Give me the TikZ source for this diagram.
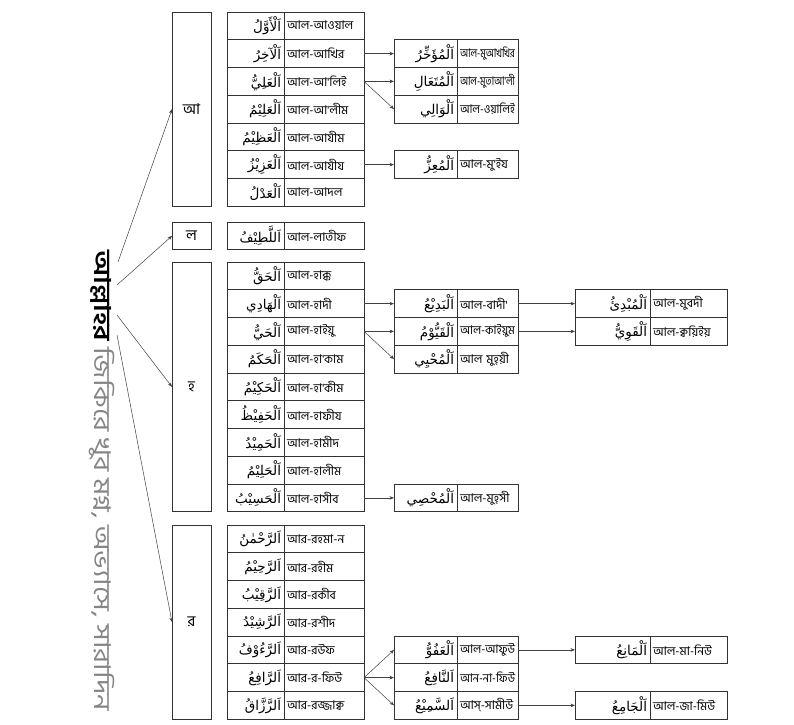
\documentclass[tikz,border=0pt]{standalone}
\usepackage{fontspec}
\usepackage{graphicx}
\usepackage{xcolor}
\usetikzlibrary{arrows.meta}
\TeXXeTstate=1
\newfontfamily\bnfont[Script=Bengali]{Hind Siliguri}
\newfontfamily\bnwide[Script=Bengali, FakeStretch=1.26]{Hind Siliguri}
\newfontfamily\arfont[Script=Arabic]{DejaVu Sans}
\newsavebox\fitbox
\newcommand\fitto[2]{\sbox\fitbox{#2}\ifdim\wd\fitbox>#1\relax\resizebox{#1}{\height}{\usebox\fitbox}\else\usebox\fitbox\fi}
\newcommand\arabtxt[1]{{\arfont\beginR #1\endR}}
\definecolor{rootgray}{HTML}{858585}
\tikzset{
  cellbase/.style={draw=black!80, line width=0.6pt, minimum height=27.75pt,
    inner xsep=3pt, inner ysep=0pt, outer sep=0pt, anchor=north west},
  arcell/.style={cellbase, text width=#1, align=right,
    font=\arfont\fontsize{13.5}{15}\selectfont},
  bncell/.style={cellbase, text width=#1, align=left,
    font=\bnfont\fontsize{12}{14}\selectfont},
  keybox/.style={draw=black!80, line width=0.6pt, minimum width=39pt,
    inner sep=0pt, outer sep=0pt, anchor=north west,
    font=\bnfont\fontsize{15}{17}\selectfont},
  conn/.style={draw=black!75, line width=0.5pt,
    -{Stealth[length=4.5pt,width=3.5pt]}},
}
% name, x, ar text width, bn text width, top, arabic, bengali
\newcommand\cellrow[7]{%
  \node[arcell=#3] (#1a) at (#2,#5) {\fitto{#3}{\arabtxt{#6}}};
  \node[bncell=#4] (#1) at (#1a.north east) {\fitto{#4}{#7}};
}
\begin{document}
\begin{tikzpicture}[x=1pt,y=-1pt]
\useasboundingbox (0,0) rectangle (794,724);

% root text
\node[rotate=-90, anchor=west, inner sep=0pt,
  font=\bnwide\fontsize{23}{27}\selectfont] (root) at (102,250)
  {{\bfseries আল্লাহর} \textcolor{rootgray}{জিকিরে খুব মগ্ন, অভ্যাসে, সারাদিন}};
\coordinate (p1) at (118,262);
\coordinate (p2) at (117,285);
\coordinate (p3) at (117,315);
\coordinate (p4) at (117,335);

% key boxes
\node[keybox, minimum height=194.25pt] (kA) at (172,12) {আ};
\node[keybox, minimum height=27.75pt] (kL) at (172,222) {ল};
\node[keybox, minimum height=249.75pt] (kH) at (172,262) {হ};
\node[keybox, minimum height=194.25pt] (kR) at (172,525) {র};

% column 2
\cellrow{a1}{227}{51pt}{74pt}{12}{اَلْأَوَّلُ}{আল-আওয়াল}
\cellrow{a2}{227}{51pt}{74pt}{39.75}{اَلْآخِرُ}{আল-আখির}
\cellrow{a3}{227}{51pt}{74pt}{67.5}{اَلْعَلِيُّ}{আল-আ'লিই}
\cellrow{a4}{227}{51pt}{74pt}{95.25}{اَلْعَلِيْمُ}{আল-আ'লীম}
\cellrow{a5}{227}{51pt}{74pt}{123}{اَلْعَظِيْمُ}{আল-আযীম}
\cellrow{a6}{227}{51pt}{74pt}{150.75}{اَلْعَزِيْزُ}{আল-আযীয}
\cellrow{a7}{227}{51pt}{74pt}{178.5}{اَلْعَدْلُ}{আল-আদল}

\cellrow{l1}{227}{51pt}{74pt}{222}{اَللَّطِيْفُ}{আল-লাতীফ}

\cellrow{h1}{227}{51pt}{74pt}{262}{اَلْحَقُّ}{আল-হাক্ক}
\cellrow{h2}{227}{51pt}{74pt}{289.75}{اَلْهَادِي}{আল-হাদী}
\cellrow{h3}{227}{51pt}{74pt}{317.5}{اَلْحَيُّ}{আল-হাইয়ু}
\cellrow{h4}{227}{51pt}{74pt}{345.25}{اَلْحَكَمُ}{আল-হা'কাম}
\cellrow{h5}{227}{51pt}{74pt}{373}{اَلْحَكِيْمُ}{আল-হা'কীম}
\cellrow{h6}{227}{51pt}{74pt}{400.75}{اَلْحَفِيْظُ}{আল-হাফীয}
\cellrow{h7}{227}{51pt}{74pt}{428.5}{اَلْحَمِيْدُ}{আল-হামীদ}
\cellrow{h8}{227}{51pt}{74pt}{456.25}{اَلْحَلِيْمُ}{আল-হালীম}
\cellrow{h9}{227}{51pt}{74pt}{484}{اَلْحَسِيْبُ}{আল-হাসীব}

\cellrow{r1}{227}{51pt}{74pt}{525}{اَلرَّحْمٰنُ}{আর-রহমা-ন}
\cellrow{r2}{227}{51pt}{74pt}{552.75}{اَلرَّحِيْمُ}{আর-রহীম}
\cellrow{r3}{227}{51pt}{74pt}{580.5}{اَلرَّقِيْبُ}{আর-রকীব}
\cellrow{r4}{227}{51pt}{74pt}{608.25}{اَلرَّشِيْدُ}{আর-রশীদ}
\cellrow{r5}{227}{51pt}{74pt}{636}{اَلرَّءُوْفُ}{আর-রউফ}
\cellrow{r6}{227}{51pt}{74pt}{663.75}{اَلرَّافِعُ}{আর-র-ফিউ}
\cellrow{r7}{227}{51pt}{74pt}{691.5}{اَلرَّزَّاقُ}{আর-রজ্জাক্ব}

% column 3
\cellrow{m1}{394}{57pt}{55pt}{39.75}{اَلْمُؤَخِّرُ}{আল-মুআখখির}
\cellrow{m2}{394}{57pt}{55pt}{67.5}{اَلْمُتَعَالِ}{আল-মুতাআ'লী}
\cellrow{m3}{394}{57pt}{55pt}{95.25}{اَلْوَالِي}{আল-ওয়ালিই}
\cellrow{m4}{394}{57pt}{55pt}{150.75}{اَلْمُعِزُّ}{আল-মু'ইয}
\cellrow{m5}{394}{57pt}{55pt}{289.75}{اَلْبَدِيْعُ}{আল-বাদী'}
\cellrow{m6}{394}{57pt}{55pt}{317.5}{اَلْقَيُّوْمُ}{আল-কাইয়ুম}
\cellrow{m7}{394}{57pt}{55pt}{345.25}{اَلْمُحْيِي}{আল মুহ্য়ী}
\cellrow{m8}{394}{57pt}{55pt}{484}{اَلْمُحْصِي}{আল-মুহ্সী}
\cellrow{m9}{394}{57pt}{55pt}{636}{اَلْعَفُوُّ}{আল-আফুউ}
\cellrow{m10}{394}{57pt}{55pt}{663.75}{اَلنَّافِعُ}{আন-না-ফিউ}
\cellrow{m11}{394}{57pt}{55pt}{691.5}{اَلسَّمِيْعُ}{আস্-সামীউ}

% column 4
\cellrow{n1}{575}{69pt}{71pt}{289.75}{اَلْمُبْدِئُ}{আল-মুবদী}
\cellrow{n2}{575}{69pt}{71pt}{317.5}{اَلْقَوِيُّ}{আল-ক্বয়িইয়}
\cellrow{n3}{575}{69pt}{71pt}{636}{اَلْمَانِعُ}{আল-মা-নিউ}
\cellrow{n4}{575}{69pt}{71pt}{691.5}{اَلْجَامِعُ}{আল-জা-মিউ}

% root connectors
\draw[conn] (p1) -- (kA.west);
\draw[conn] (p2) -- (kL.west);
\draw[conn] (p3) -- (kH.west);
\draw[conn] (p4) -- (kR.west);

% column 2 -> 3
\draw[conn] (a2.east) -- (m1a.west);
\draw[conn] (a3.east) -- (m2a.west);
\draw[conn] (a3.east) -- (m3a.west);
\draw[conn] (a6.east) -- (m4a.west);
\draw[conn] (h2.east) -- (m5a.west);
\draw[conn] (h3.east) -- (m6a.west);
\draw[conn] (h3.east) -- (m7a.west);
\draw[conn] (h9.east) -- (m8a.west);
\draw[conn] (r6.east) -- (m9a.west);
\draw[conn] (r6.east) -- (m10a.west);
\draw[conn] (r6.east) -- (m11a.west);

% column 3 -> 4
\draw[conn] (m5.east) -- (n1a.west);
\draw[conn] (m6.east) -- (n2a.west);
\draw[conn] (m9.east) -- (n3a.west);
\draw[conn] (m11.east) -- (n4a.west);
\end{tikzpicture}
\end{document}
